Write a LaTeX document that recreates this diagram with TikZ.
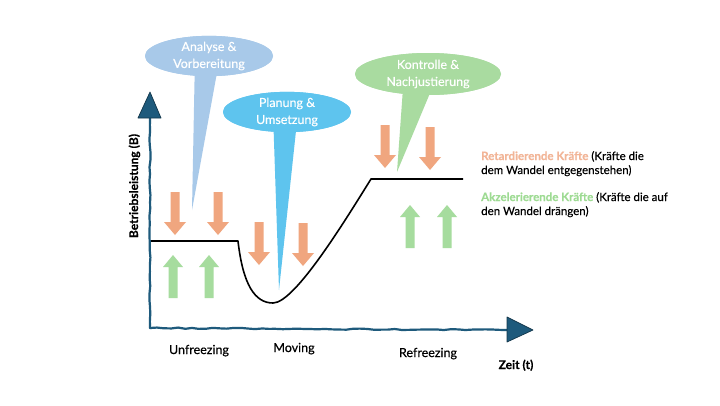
\documentclass[tikz,border=0pt]{standalone}
\usepackage{fontspec}
\setmainfont{Lato}
\newfontfamily\medfont{Lato}[FakeBold=0.35]
\usetikzlibrary{shapes.geometric,decorations.pathmorphing}
\definecolor{axisblue}{HTML}{1E5A7C}
\definecolor{forceorange}{HTML}{F0A67F}
\definecolor{forcegreen}{HTML}{A6DC9E}
\definecolor{bubbleA}{HTML}{A8C9E9}
\definecolor{bubbleP}{HTML}{5EC4EE}
\definecolor{bubbleK}{HTML}{A9DBA0}
\definecolor{retard}{HTML}{F2B597}
\definecolor{akzel}{HTML}{9EDB93}
\begin{document}
\begin{tikzpicture}[x=1pt,y=-1pt,
  bubble/.style={ellipse, inner sep=0pt, text=white, align=center,
    font=\medfont\fontsize{12.5}{17}\selectfont},
  axisline/.style={axisblue, line width=2.2pt, line cap=round,
    decorate, decoration={random steps, segment length=7pt, amplitude=0.6pt}},
  axishead/.style={fill=axisblue, draw=axisblue!60!black, line width=0.7pt, line join=round},
  phase/.style={anchor=base, font=\medfont\fontsize{12.5}{15}\selectfont},
  axislabel/.style={anchor=base, font=\medfont\bfseries\fontsize{12}{14}\selectfont},
  legend/.style={anchor=base west, inner sep=0pt, font=\medfont\fontsize{11.5}{14}\selectfont},
  downforce/.pic={\fill[forceorange] (-4.5,0) -- (4.5,0) -- (4.5,30) -- (11,30) -- (0,43) -- (-11,30) -- (-4.5,30) -- cycle;},
  upforce/.pic={\fill[forcegreen] (-4.5,0) -- (4.5,0) -- (4.5,-31) -- (10,-31) -- (0,-43) -- (-10,-31) -- (-4.5,-31) -- cycle;}
]
\pgfmathsetseed{7}
\useasboundingbox (0,0) rectangle (720,405);
\fill[white] (0,0) rectangle (720,405);

% speech bubbles
\coordinate (analyseTip) at (192,210);
\coordinate (planungTip) at (279,290);
\coordinate (kontrolleTip) at (397,172);
\node[bubble, fill=bubbleA, minimum width=128pt, minimum height=38pt] (analyse) at (209,56) {Analyse \&\\Vorbereitung};
\fill[bubbleA] ([xshift=-14pt]analyse.center) -- ([xshift=11pt]analyse.center) -- (analyseTip) -- cycle;
\node[bubble, fill=bubbleA, minimum width=128pt, minimum height=38pt] at (analyse.center) {Analyse \&\\Vorbereitung};

\node[bubble, fill=bubbleP, minimum width=128pt, minimum height=40pt] (planung) at (287,112) {Planung \&\\Umsetzung};
\fill[bubbleP] ([xshift=-14pt]planung.center) -- ([xshift=11pt]planung.center) -- (planungTip) -- cycle;
\node[bubble, fill=bubbleP, minimum width=128pt, minimum height=40pt] at (planung.center) {Planung \&\\Umsetzung};

\node[bubble, fill=bubbleK, minimum width=146pt, minimum height=42pt] (kontrolle) at (428,74) {Kontrolle \&\\Nachjustierung};
\fill[bubbleK] ([xshift=-24pt]kontrolle.center) -- ([xshift=10pt]kontrolle.center) -- (kontrolleTip) -- cycle;
\node[bubble, fill=bubbleK, minimum width=146pt, minimum height=42pt] at (kontrolle.center) {Kontrolle \&\\Nachjustierung};

% forces
\pic at (175,192) {downforce};
\pic at (218,192) {downforce};
\pic at (259,222) {downforce};
\pic at (303,223) {downforce};
\pic at (385,125) {downforce};
\pic at (430,127) {downforce};
\pic at (173,298) {upforce};
\pic at (209,298) {upforce};
\pic at (410,248) {upforce};
\pic at (447,248) {upforce};

% performance curve
\coordinate (c0) at (150,241);
\coordinate (c1) at (238,241);
\coordinate (cmin) at (273,303);
\coordinate (c2) at (371,179);
\coordinate (c3) at (463,179);
\draw[line width=1.6pt, line join=round] (c0) -- (c1) .. controls (243,285) and (255,303) .. (cmin)
  .. controls (295,303) and (346,219) .. (c2) -- (c3);

% axes
\coordinate (O) at (150,328);
\coordinate (ytop) at (150,118);
\coordinate (xend) at (508,330);
\draw[axisline] (O) -- (ytop);
\draw[axisline] (O) -- (xend);
\filldraw[axishead] (138,118) -- (150,92) -- (161,118) -- cycle;
\filldraw[axishead] (507,317) -- (533,330) -- (507,342) -- cycle;

% labels
\node[phase] (unf) at (199,354) {Unfreezing};
\node[phase] (mov) at (294,352) {Moving};
\node[phase] (ref) at (428,357) {Refreezing};
\node[axislabel] (zeit) at (516,369) {Zeit (t)};
\node[axislabel, rotate=90] (betr) at (138,186) {Betriebsleistung (B)};

% legend
\node[legend] (leg1) at (481,160) {\textcolor{retard}{\bfseries Retardierende Kräfte} (Kräfte die};
\node[legend] (leg2) at (481,174) {dem Wandel entgegenstehen)};
\node[legend] (leg3) at (481,201) {\textcolor{akzel}{\bfseries Akzelerierende Kräfte} (Kräfte die auf};
\node[legend] (leg4) at (481,215) {den Wandel drängen)};
\end{tikzpicture}
\end{document}
